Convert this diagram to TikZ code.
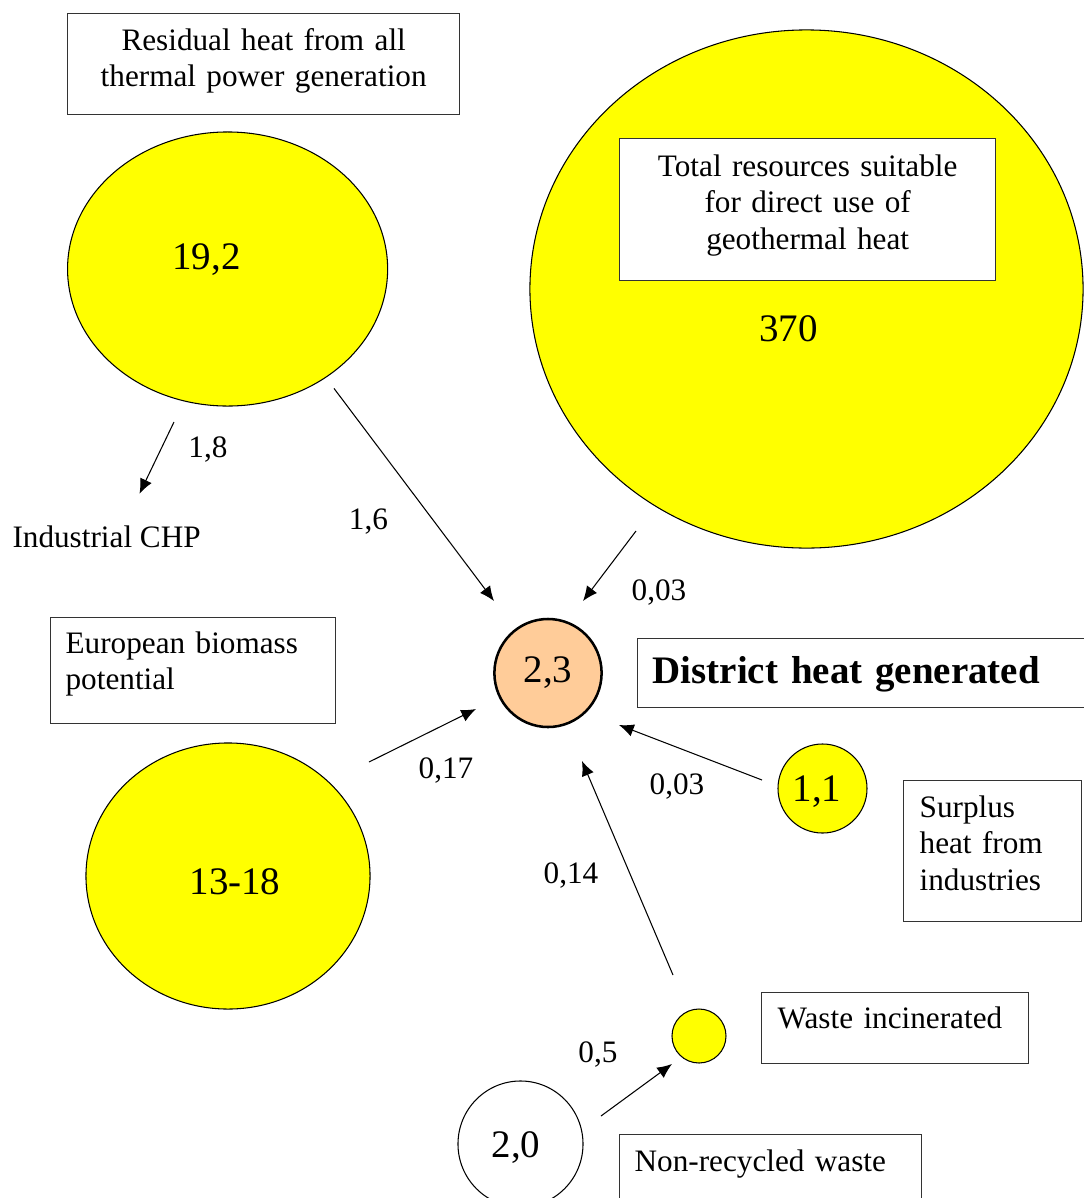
\documentclass[tikz,border=0pt]{standalone}
\usepackage{fontspec}
\setmainfont{Liberation Serif}
\usetikzlibrary{positioning,arrows.meta,shapes.geometric}
\definecolor{peach}{RGB}{255,204,153}
\definecolor{sun}{RGB}{255,255,0}

\begin{document}
\begin{tikzpicture}[->,>={Latex[length=10.5pt,width=9pt]},x=0.025cm,y=-0.025cm,
  line width=0.75pt,font={\fontsize{22.2pt}{25.8pt}\selectfont},
  pool/.style={ellipse,draw,fill=sun,inner sep=0pt},
  note/.style={draw=black!80,line width=0.9pt,fill=white,anchor=north west,
    inner ysep=0pt,inner xsep=0.375cm,align=left},
  figure/.style={font={\fontsize{27.7pt}{32pt}\selectfont}}]
  \useasboundingbox (0,0) rectangle (1084,1198);

  % residual heat
  \node[pool,minimum width=8cm,minimum height=6.85cm] (resheat) at (227.6,269) {};
  \node[figure] (resval) at (206.6,260) {19,2};
  \node[note,text width=9.05cm,align=center,text height=0.92cm,text depth=1.61cm]
    (resbox) at (67,13) {Residual heat from all\\thermal power generation};

  % geothermal
  \node[pool,minimum width=13.825cm,minimum height=12.95cm] (geoheat) at (806.5,289) {};
  \node[figure] (geoval) at (788.6,329) {370};
  \node[note,text width=8.65cm,align=center,text height=0.95cm,text depth=2.6cm]
    (geobox) at (619,138) {Total resources suitable\\for direct use of\\geothermal heat};

  % biomass
  \node[pool,minimum width=7.1cm,minimum height=6.65cm] (bioheat) at (228,876) {};
  \node[figure] (bioval) at (235,882) {13-18};
  \node[note,text width=6.375cm,text height=0.9cm,text depth=1.75cm]
    (biobox) at (50,617) {European biomass\\potential};

  % district heat
  \node[ellipse,draw,line width=1.8pt,fill=peach,inner sep=0pt,figure,
    minimum width=2.68cm,minimum height=2.7cm] (dh) at (548,673) {2,3};
  \node[note,figure,text width=11cm,inner xsep=0.3875cm,text height=1.125cm,text depth=0.6cm]
    (dhbox) at (636.5,638) {\bfseries District heat generated};

  % industry surplus
  \node[pool,figure,minimum size=2.225cm] (surpheat) at (822.5,788.5) {};
  \node[figure] (surpval) at (817,792) {1,1};
  \node[note,text width=3.65cm,inner xsep=0.4cm,text height=0.925cm,text depth=2.6cm]
    (surpbox) at (903,780) {Surplus\\heat from\\industries};

  % waste
  \node[pool,minimum size=1.35cm] (wasteheat) at (699,1036) {};
  \node[note,text width=5.875cm,inner xsep=0.4cm,text height=0.9cm,text depth=0.875cm]
    (wastebox) at (761,992) {Waste incinerated};
  \node[ellipse,draw,inner sep=0pt,minimum width=3.125cm,minimum height=3.15cm]
    (nrwheat) at (520.5,1144) {};
  \node[figure] (nrwval) at (516,1148) {2,0};
  \node[note,text width=6.8cm,text height=0.925cm,text depth=1.5cm]
    (nrwbox) at (619,1134) {Non-recycled waste};

  \node[anchor=base west,inner sep=0pt] (chp) at (12,547) {Industrial CHP};

  % flow ends
  \coordinate (f18a) at (174,422);    \coordinate (f18b) at (139.5,493.7);
  \coordinate (f16a) at (334,388.4);  \coordinate (f16b) at (494,601);
  \coordinate (fgeoa) at (636,531);   \coordinate (fgeob) at (583,601);
  \coordinate (f017a) at (369,762);   \coordinate (f017b) at (476,709);
  \coordinate (fsura) at (762,780);   \coordinate (fsurb) at (619,725);
  \coordinate (f014a) at (673,975);   \coordinate (f014b) at (582,761);
  \coordinate (f05a) at (601,1116);   \coordinate (f05b) at (672,1064);

  \path
    (f18a) edge (f18b)
    (f16a) edge (f16b)
    (fgeoa) edge (fgeob)
    (f017a) edge (f017b)
    (fsura) edge (fsurb)
    (f014a) edge (f014b)
    (f05a) edge (f05b);

  \node (l18) at (208,450) {1,8};
  \node (l16) at (368.5,522) {1,6};
  \node (lgeo) at (659,593) {0,03};
  \node (l017) at (446,771) {0,17};
  \node (lsur) at (677,787) {0,03};
  \node (l014) at (571,876) {0,14};
  \node (l05) at (598,1055) {0,5};
\end{tikzpicture}
\end{document}
